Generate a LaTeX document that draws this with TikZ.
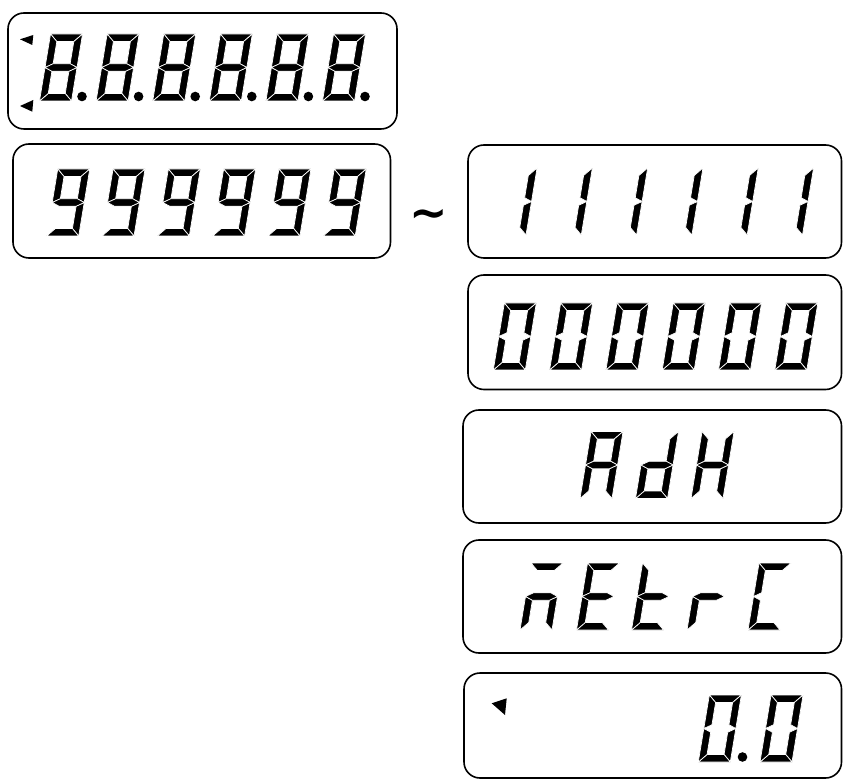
\documentclass[tikz,border=0pt]{standalone}
\usepackage{fontspec}
\newfontfamily\tildefont{DejaVu Sans Bold}
\begin{document}
\begin{tikzpicture}[x=1pt,y=1pt,
  box/.style={draw=black,line width=1.6pt,rounded corners=16pt},
  seg/.style={fill=black,draw=white,line width=0.7pt,line join=miter},
  ind/.style={fill=black}]
\useasboundingbox (0,0) rectangle (843,780);
\def\W{32}\def\H{67}\def\T{7.5}\def\M{33.5}\def\S{3.75}
\newcommand\sga{\filldraw[seg] (0,\H)--(\W,\H)--({\W-\T},{\H-\T})--(\T,{\H-\T})--cycle;}
\newcommand\sgb{\filldraw[seg] (\W,\H)--(\W,\M)--({\W-\T},{\M+\S})--({\W-\T},{\H-\T})--cycle;}
\newcommand\sgc{\filldraw[seg] (\W,\M)--(\W,0)--({\W-\T},\T)--({\W-\T},{\M-\S})--cycle;}
\newcommand\sgd{\filldraw[seg] (0,0)--(\W,0)--({\W-\T},\T)--(\T,\T)--cycle;}
\newcommand\sge{\filldraw[seg] (0,0)--(0,\M)--(\T,{\M-\S})--(\T,\T)--cycle;}
\newcommand\sgf{\filldraw[seg] (0,\H)--(0,\M)--(\T,{\M+\S})--(\T,{\H-\T})--cycle;}
\newcommand\sgg{\filldraw[seg] (0,\M)--(\T,{\M+\S})--({\W-\T},{\M+\S})--(\W,\M)--({\W-\T},{\M-\S})--(\T,{\M-\S})--cycle;}
\newcommand\digit[3]{\begin{scope}[shift={(#1,#2)},xslant=0.165]
  \foreach \s in {#3}{\csname sg\s\endcsname}\end{scope}}
% boxes
\draw[box] (8,767) rectangle (397,651);
\draw[box] (13,636) rectangle (390.5,522);
\draw[box] (468,635) rectangle (841.5,522);
\draw[box] (468,505) rectangle (841.5,390.5);
\draw[box] (463,370) rectangle (841.5,257);
\draw[box] (463,240) rectangle (841.5,127);
\draw[box] (464,107) rectangle (841.5,2);
% row 1: 8.8.8.8.8.8.
\foreach \x in {39.5,96.1,152.7,209.3,265.9,322.5}{
  \digit{\x}{679}{a,b,c,d,e,f,g}
  \fill[ind] ({\x+42.5},683.5) circle (4.8);
}
\fill[ind] (20,740.7)--(33.3,745)--(32.3,735)--cycle;
\fill[ind] (20,674)--(33.3,680)--(32.3,668.3)--cycle;
% row 2: 999999
\foreach \x in {46.7,102,157.3,212.6,267.9,323.2}{\digit{\x}{544}{a,b,c,d,f,g}}
\node[font=\tildefont\fontsize{46}{46}\selectfont,inner sep=0pt] (tilde) at (428.5,561) {\char"007E};
% 111111
\foreach \x in {494,549.3,604.6,659.9,715.2,770.5}{\digit{\x}{545}{b,c}}
% 000000
\foreach \x in {493.3,549.6,605.9,662.2,718.5,774.8}{\digit{\x}{410}{a,b,c,d,e,f}}
% AdH
\digit{580}{281.5}{a,b,c,e,f,g}
\digit{635.5}{281.5}{b,c,d,e,g}
\digit{691}{281.5}{b,c,e,f,g}
% metrC
\digit{520}{150}{a,c,e,g}
\digit{576.5}{150}{a,d,e,f,g}
\digit{631.5}{150}{d,e,f,g}
\digit{687}{150}{e,g}
\digit{748}{150}{a,d,e,f}
% 0.0
\fill[ind] (491.7,76.7)--(506.7,81.7)--(505,65)--cycle;
\digit{698.3}{18}{a,b,c,d,e,f}
\fill[ind] (742.5,23) circle (4.8);
\digit{760}{18}{a,b,c,d,e,f}
\end{tikzpicture}
\end{document}
